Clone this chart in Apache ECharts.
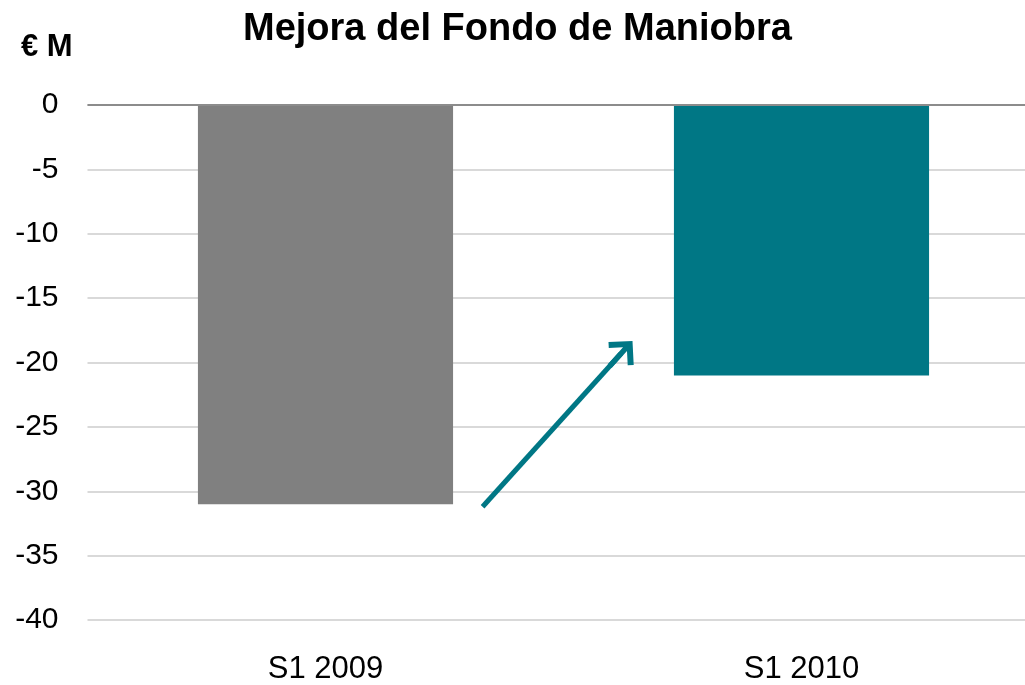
<!DOCTYPE html>
<html>
<head>
<meta charset="utf-8">
<script src="https://cdn.jsdelivr.net/npm/echarts@6/dist/echarts.min.js"></script>
<style>
  html, body { margin: 0; padding: 0; background: #fff; overflow: hidden; width: 1025px; height: 685px; }
  #chart { width: 1040px; height: 685px; }
</style>
</head>
<body>
<div id="chart"></div>
<script>
// categorias y valores (€ M)
var categories = ["S1 2009", "S1 2010"];
var values = [-31, -21];
var barColors = ["#808080", "#007785"];
// flecha de mejora, en coordenadas de eje auxiliar (0..2) y valor
var arrowFrom = [0.83, -31.2];
var arrowTo = [1.121, -19.3];

// punta de flecha abierta (chevron), caja cuadrada 32x32
var chevron = "path://M0,0 L16,16 L12,20 L2.5,10.5 L2.5,32 L-2.5,32 L-2.5,10.5 L-12,20 L-16,16 Z";

var chart = echarts.init(document.getElementById("chart"));
var option = {
  animation: false,
  title: [
    {
      text: "Mejora del Fondo de Maniobra",
      left: 238,
      top: 6,
      textStyle: { fontFamily: "Liberation Sans", fontSize: 38, fontWeight: "bold", color: "#000" }
    },
    {
      text: "€ M",
      left: 16,
      top: 27,
      textStyle: { fontFamily: "Liberation Sans", fontSize: 31, fontWeight: "bold", color: "#000" }
    }
  ],
  // la rejilla sigue mas alla del borde derecho, como en el original
  grid: { left: 87.5, right: 0.5, top: 105, bottom: 63, containLabel: false },
  xAxis: [
    {
      type: "category",
      data: categories,
      axisLine: { show: false },
      axisTick: { show: false },
      axisLabel: { margin: 34, fontFamily: "Liberation Sans", fontSize: 31, color: "#000" }
    },
    {
      // eje auxiliar oculto para la flecha
      type: "value",
      min: 0,
      max: 2,
      show: false
    }
  ],
  yAxis: {
    type: "value",
    min: -40,
    max: 0,
    interval: 5,
    axisLine: { show: false },
    axisTick: { show: false },
    axisLabel: { margin: 29, fontFamily: "Liberation Sans", fontSize: 30, color: "#000" },
    splitLine: { lineStyle: { color: "#d9d9d9", width: 2 } }
  },
  series: [
    {
      type: "bar",
      barWidth: "53.6%",
      data: values.map(function (v, i) {
        return { value: v, itemStyle: { color: barColors[i] } };
      }),
      markLine: {
        silent: true,
        symbol: "none",
        label: { show: false },
        lineStyle: { color: "#8c8c8c", width: 2, type: "solid" },
        data: [{ yAxis: 0 }]
      }
    },
    {
      type: "lines",
      coordinateSystem: "cartesian2d",
      xAxisIndex: 1,
      yAxisIndex: 0,
      symbol: ["none", chevron],
      symbolSize: 34,
      lineStyle: { color: "#007785", width: 5, opacity: 1 },
      data: [{ coords: [arrowFrom, arrowTo] }]
    }
  ]
};
chart.setOption(option);
</script>
</body>
</html>
